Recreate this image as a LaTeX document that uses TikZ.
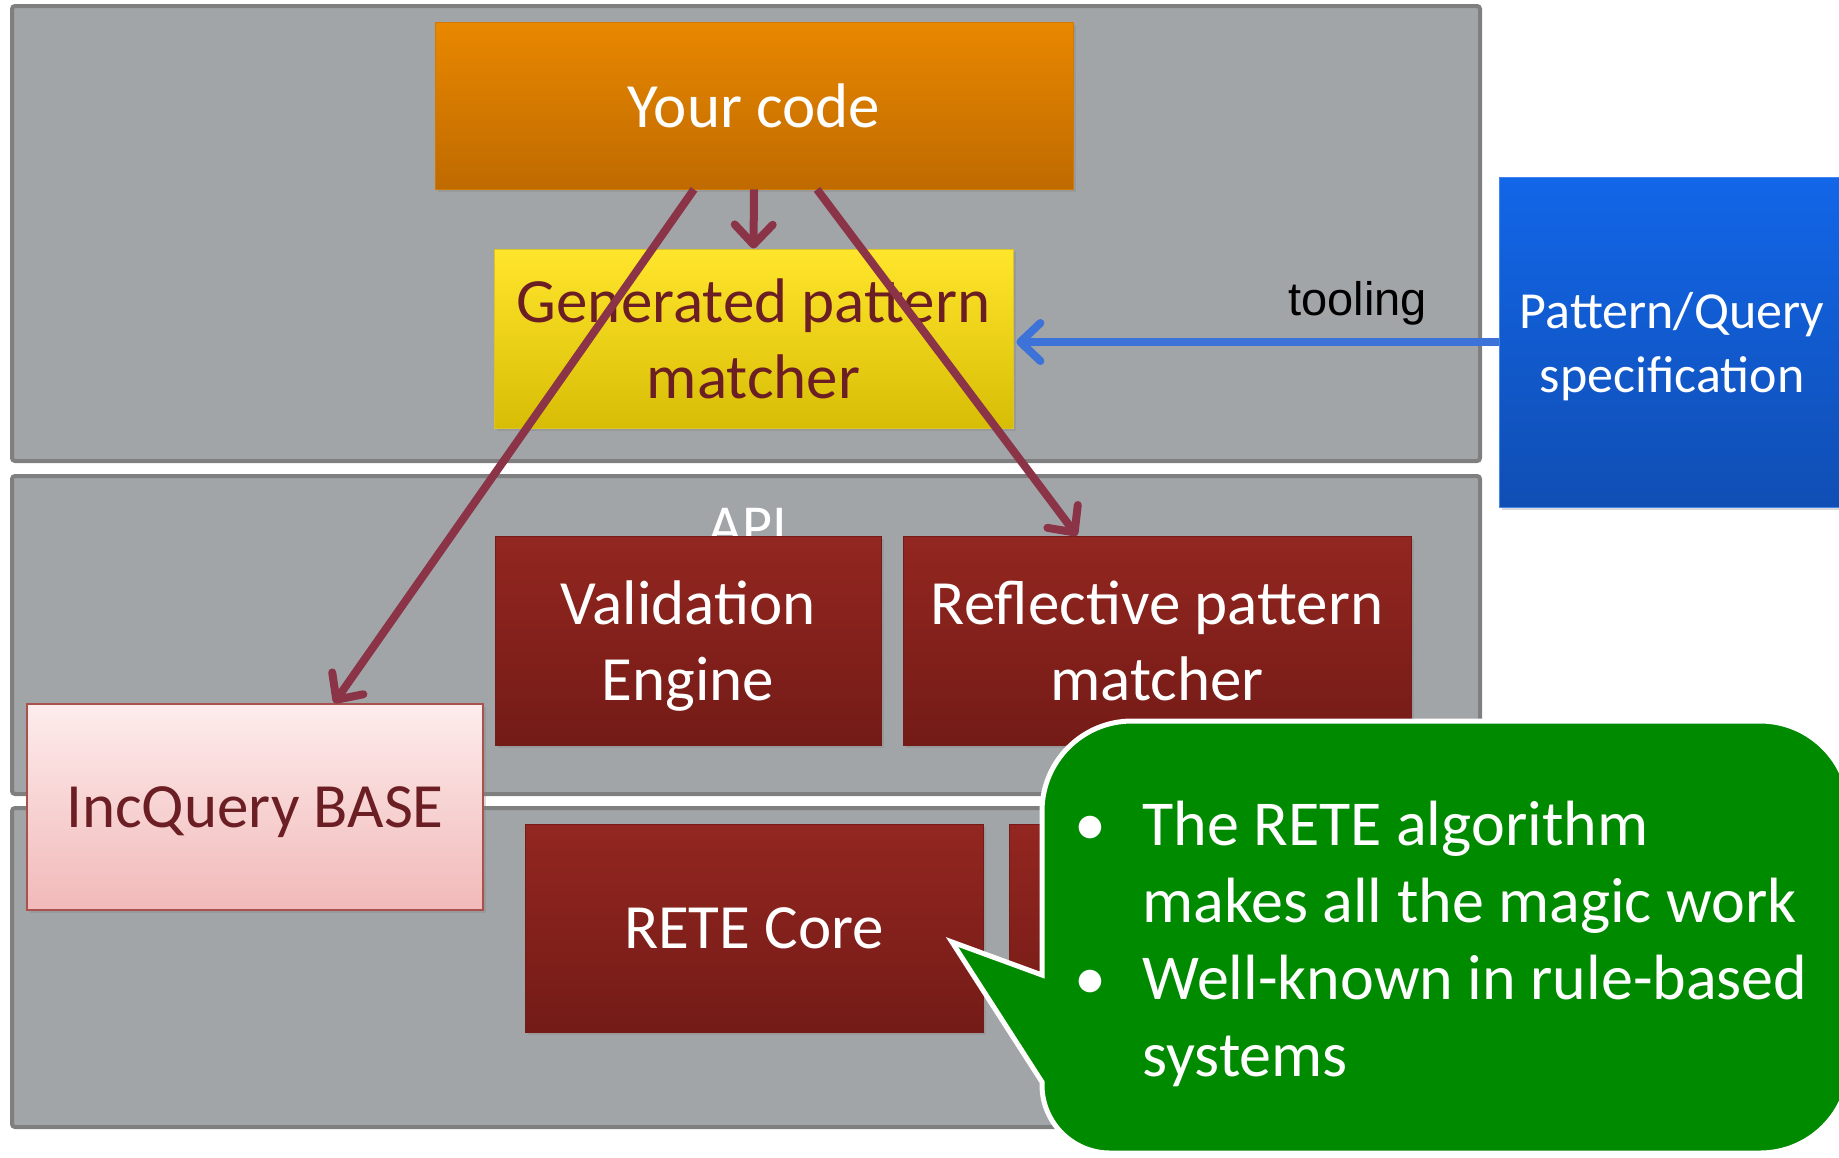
\documentclass[tikz,border=0pt]{standalone}
\usepackage{fontspec}
\setmainfont{Carlito}
\newfontfamily\toolfont{Liberation Sans}
\usetikzlibrary{arrows.meta,shadows}

\definecolor{panelgray}{HTML}{A2A5A8}
\definecolor{paneledge}{HTML}{7F7F7F}
\definecolor{codetop}{HTML}{E98800}
\definecolor{codebot}{HTML}{BF6A00}
\definecolor{gentop}{HTML}{FFE52B}
\definecolor{genbot}{HTML}{D8BD06}
\definecolor{redtop}{HTML}{932620}
\definecolor{redbot}{HTML}{741B17}
\definecolor{basetop}{HTML}{FDECEC}
\definecolor{basebot}{HTML}{F2B9B9}
\definecolor{spectop}{HTML}{1266E8}
\definecolor{specbot}{HTML}{104EB4}
\definecolor{bubblegreen}{HTML}{008A00}
\definecolor{flowred}{HTML}{8B3347}
\definecolor{toolblue}{HTML}{3D72D9}
\definecolor{darktext}{HTML}{6B1F24}

% last line of a box without its depth
\newcommand{\flatline}[1]{\raisebox{0pt}[\height][0pt]{#1}}

\tikzset{
  layer/.style={fill=panelgray, draw=paneledge, line width=2pt, rounded corners=1.5pt},
  block/.style={rectangle, inner sep=0pt, align=center, font=\fontsize{31.5}{38}\selectfont,
    drop shadow={shadow xshift=1.5pt, shadow yshift=-1.5pt, opacity=0.3}},
  codebox/.style={block, top color=codetop, bottom color=codebot, draw=codetop!90!black, text=white},
  genbox/.style={block, top color=gentop, bottom color=genbot, draw=gentop!85!black, text=darktext},
  redbox/.style={block, top color=redtop, bottom color=redbot, draw=redbot, text=white},
  basebox/.style={block, top color=basetop, bottom color=basebot, draw=redtop!80!white, line width=1pt, text=darktext},
  specbox/.style={block, top color=spectop, bottom color=specbot, draw=spectop!80!white, text=white,
    font=\fontsize{26}{32}\selectfont},
  flow/.style={draw=flowred, line width=4pt, -{Straight Barb[length=10pt,width=19pt,round]}},
  tool/.style={draw=toolblue, line width=4pt, -{Straight Barb[length=10pt,width=19pt,round]}},
  bubble/.style={fill=bubblegreen, draw=white, line width=2.5pt},
}

\begin{document}
\begin{tikzpicture}[x=0.5pt, y=-0.5pt]
  \useasboundingbox (0,0) rectangle (1839,1157);

  % the three layers
  \draw[layer] (12,6) rectangle (1480,461);
  \draw[layer] (12,476) rectangle (1480,794);
  \draw[layer] (12,808) rectangle (1480,1127);

  \node[text=white, font=\fontsize{29}{34}\selectfont, anchor=base, inner sep=0pt] (api) at (748,545) {API};

  % components
  \node[codebox, minimum width=319pt, minimum height=83.5pt] (code) at (754,105.5) {Your code};
  \node[genbox, minimum width=259.5pt, minimum height=89.5pt] (gen) at (753.5,338.5) {Generated pattern\\matcher};
  \node[specbox, minimum width=173pt, minimum height=165pt] (spec) at (1672,342) {Pattern/Query\\\flatline{specification}};
  \node[redbox, minimum width=193pt, minimum height=104.5pt] (valid) at (688,640.5) {Validation\\\flatline{Engine}};
  \node[redbox, minimum width=254pt, minimum height=104.5pt] (refl) at (1157,640.5) {Reflective pattern\\matcher};
  \node[redbox, minimum width=229pt, minimum height=104pt] (rete) at (754,928) {RETE Core};
  \node[redbox, minimum width=229pt, minimum height=104pt] (extra) at (1238,928) {};
  \node[basebox, minimum width=228pt, minimum height=103pt, text depth=0pt] (base) at (255,807) {IncQuery BASE};

  % dependencies
  \draw[flow] (code.south) -- (gen.north);
  \draw[flow] ([xshift=-30pt]code.south) -- ([xshift=39.5pt]base.north);
  \draw[flow] ([xshift=31.5pt]code.south) -- ([xshift=-40pt]refl.north);
  \draw[tool, shorten >=1.5pt] (spec.west) -- (spec.west -| gen.east)
    node[pos=0.29, anchor=base, yshift=13.5pt, inner sep=0pt, text=black,
         font=\toolfont\fontsize{23.5}{28}\selectfont] (tooling) {tooling};

  % callout
  \draw[bubble] (1042,975) [rounded corners=45pt] -- (1042,721) -- (1850,721) -- (1850,1153)
    [rounded corners=34pt] -- (1042,1153) [sharp corners] -- (1042,1082) -- (952,942) -- cycle;
  \node[anchor=west, text=white, inner sep=0pt, font=\fontsize{32}{38.5}\selectfont] (points) at (1074,946)
    {\begin{tabular}{@{}p{34pt}@{}l@{}}
      \textbullet & The RETE algorithm\\
                  & makes all the magic work\\
      \textbullet & Well-known in rule-based\\
                  & systems
    \end{tabular}};
\end{tikzpicture}
\end{document}
